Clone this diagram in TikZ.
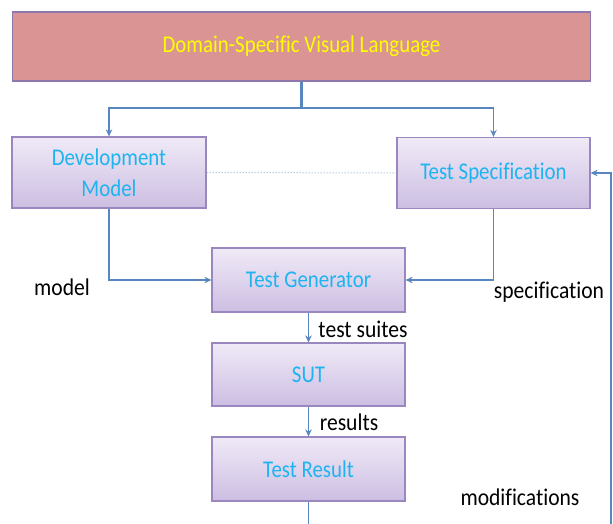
\documentclass[tikz,border=0pt]{standalone}
\usepackage{fontspec}
\setmainfont{Carlito}[Ligatures=NoCommon]
\newfontfamily\boxfont{Carlito}[FakeStretch=0.87,Ligatures=NoCommon]
\newfontfamily\lblfont{Carlito}[FakeStretch=0.9,Ligatures=NoCommon]
\usetikzlibrary{arrows.meta}
\definecolor{boxtop}{RGB}{240,234,247}
\definecolor{boxbot}{RGB}{204,190,226}
\definecolor{boxline}{RGB}{155,135,192}
\definecolor{hdrfill}{RGB}{217,148,147}
\definecolor{hdrline}{RGB}{140,120,170}
\definecolor{conncol}{RGB}{88,135,192}
\definecolor{dotcol}{RGB}{150,180,215}
\definecolor{txtcyan}{RGB}{30,180,240}
\definecolor{txtyellow}{RGB}{255,255,0}
\tikzset{
  procbox/.style={draw=boxline, line width=1.2pt, top color=boxtop, bottom color=boxbot,
    minimum width=193pt, inner sep=0pt, align=center,
    font=\boxfont\fontsize{24}{27}\selectfont, text=txtcyan},
  hdrbox/.style={draw=hdrline, line width=1.5pt, fill=hdrfill, minimum width=578pt, minimum height=69pt,
    inner sep=0pt, font=\boxfont\fontsize{24}{27}\selectfont, text=txtyellow},
  conn/.style={draw=conncol, line width=1.6pt},
  arr/.style={conn, -{Stealth[length=7pt,width=6.5pt]}},
  lbl/.style={font=\lblfont\fontsize{24}{27}\selectfont, text=black, inner sep=0pt}
}
\begin{document}
\begin{tikzpicture}[x=1pt,y=-1pt]
\useasboundingbox[fill=white] (0,0) rectangle (613,524);
\node[hdrbox] (top) at (301.5,46.5) {Domain-Specific Visual Language};
\node[procbox, minimum width=194pt, minimum height=71pt] (dev) at (109,172.5) {Development\\[4pt]Model};
\node[procbox, minimum height=71pt] (spec) at (493.5,173) {Test Specification};
\node[procbox, minimum height=64pt] (gen) at (308.5,280) {Test Generator};
\node[procbox, minimum height=63pt] (sut) at (308.5,374.5) {SUT};
\node[procbox, minimum height=64pt] (res) at (308.5,469) {Test Result};

\coordinate (j) at (301.5,108);
\coordinate (b1) at (308.5,524);
\coordinate (b2) at (611,524);

\draw[conn, line width=2.6pt] (top.south) -- (j);
\draw[arr] (j) -| (dev.north);
\draw[arr] (j) -| (spec.north);
\draw[draw=dotcol, line width=1pt, dotted] (dev.east) -- (spec.west);
\draw[arr] (dev.south) |- (gen.west);
\draw[arr] (spec.south) |- (gen.east);
\draw[arr] (gen.south) -- (sut.north);
\draw[arr] (sut.south) -- (res.north);
\draw[conn] (res.south) -- (b1);
\draw[arr] (b2) |- (spec.east);

\node[lbl] (lmodel) at (62,287) {model};
\node[lbl] (lspec) at (549,292) {specification};
\node[lbl] (lsuites) at (363,329) {test suites};
\node[lbl] (lres) at (349,422) {results};
\node[lbl] (lmod) at (520,497) {modifications};
\end{tikzpicture}
\end{document}
